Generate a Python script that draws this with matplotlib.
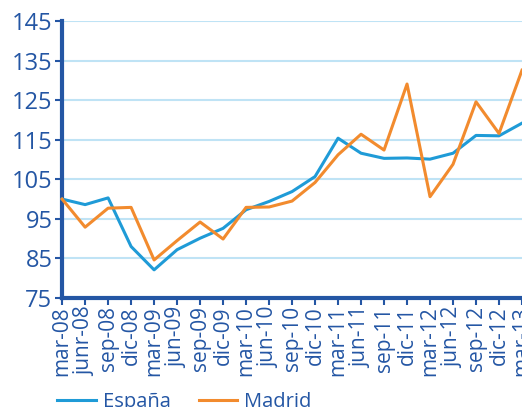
import matplotlib.pyplot as plt

plt.rcParams['font.family'] = ['Open Sans', 'DejaVu Sans']

fechas = ["mar-08", "junr-08", "sep-08", "dic-08", "mar-09", "jun-09", "sep-09",
          "dic-09", "mar-10", "jun-10", "sep-10", "dic-10", "mar-11", "jun-11",
          "sep-11", "dic-11", "mar-12", "jun-12", "sep-12", "dic-12", "mar-13"]
espana = [100.0, 98.6, 100.3, 88.0, 82.1, 87.2, 90.1, 92.6, 97.3, 99.4, 101.9,
          105.7, 115.4, 111.6, 110.3, 110.4, 110.1, 111.6, 116.1, 116.0, 119.2]
madrid = [100.0, 92.9, 97.7, 97.9, 84.6, 89.5, 94.2, 89.9, 97.9, 98.0, 99.5,
          104.2, 111.2, 116.4, 112.4, 129.1, 100.6, 108.8, 124.6, 116.6, 132.6]
yticks = [75, 85, 95, 105, 115, 125, 135, 145]

azul_texto = "#2456a4"
azul = "#1f9bd7"
naranja = "#f28b2e"

fig = plt.figure(figsize=(5.22, 4.07), dpi=100)
ax = fig.add_axes([0.119, 0.268, 0.881, 0.68])

x = list(range(len(fechas)))
ax.plot(x, espana, color=azul, lw=2.2, label="España", clip_on=False, zorder=3)
ax.plot(x, madrid, color=naranja, lw=2.2, label="Madrid", clip_on=False, zorder=3)

ax.set_xlim(0, len(fechas) - 1)
ax.set_ylim(75, 145)
ax.set_yticks(yticks)
ax.set_xticks(x)
ax.set_xticklabels(fechas, rotation=90, fontsize=15, color=azul_texto)
ax.tick_params(axis='y', labelsize=17, labelcolor=azul_texto, color=azul_texto,
               length=5, width=1.5, pad=2)
ax.tick_params(axis='x', color=azul_texto, length=5, width=1.5, pad=1)
ax.grid(axis='y', color="#bfe3f5", lw=1.5, zorder=0)
ax.set_axisbelow(True)

for s in ["top", "right"]:
    ax.spines[s].set_visible(False)
for s in ["left", "bottom"]:
    ax.spines[s].set_color(azul_texto)
    ax.spines[s].set_linewidth(3)

fig.legend(loc="lower left", bbox_to_anchor=(0.11, -0.012), ncol=2, frameon=False,
           fontsize=14.5, labelcolor=azul_texto, handlelength=1.9, columnspacing=1.4,
           handletextpad=0.35, borderpad=0, borderaxespad=0)

fig.savefig("out.png", dpi=100)
